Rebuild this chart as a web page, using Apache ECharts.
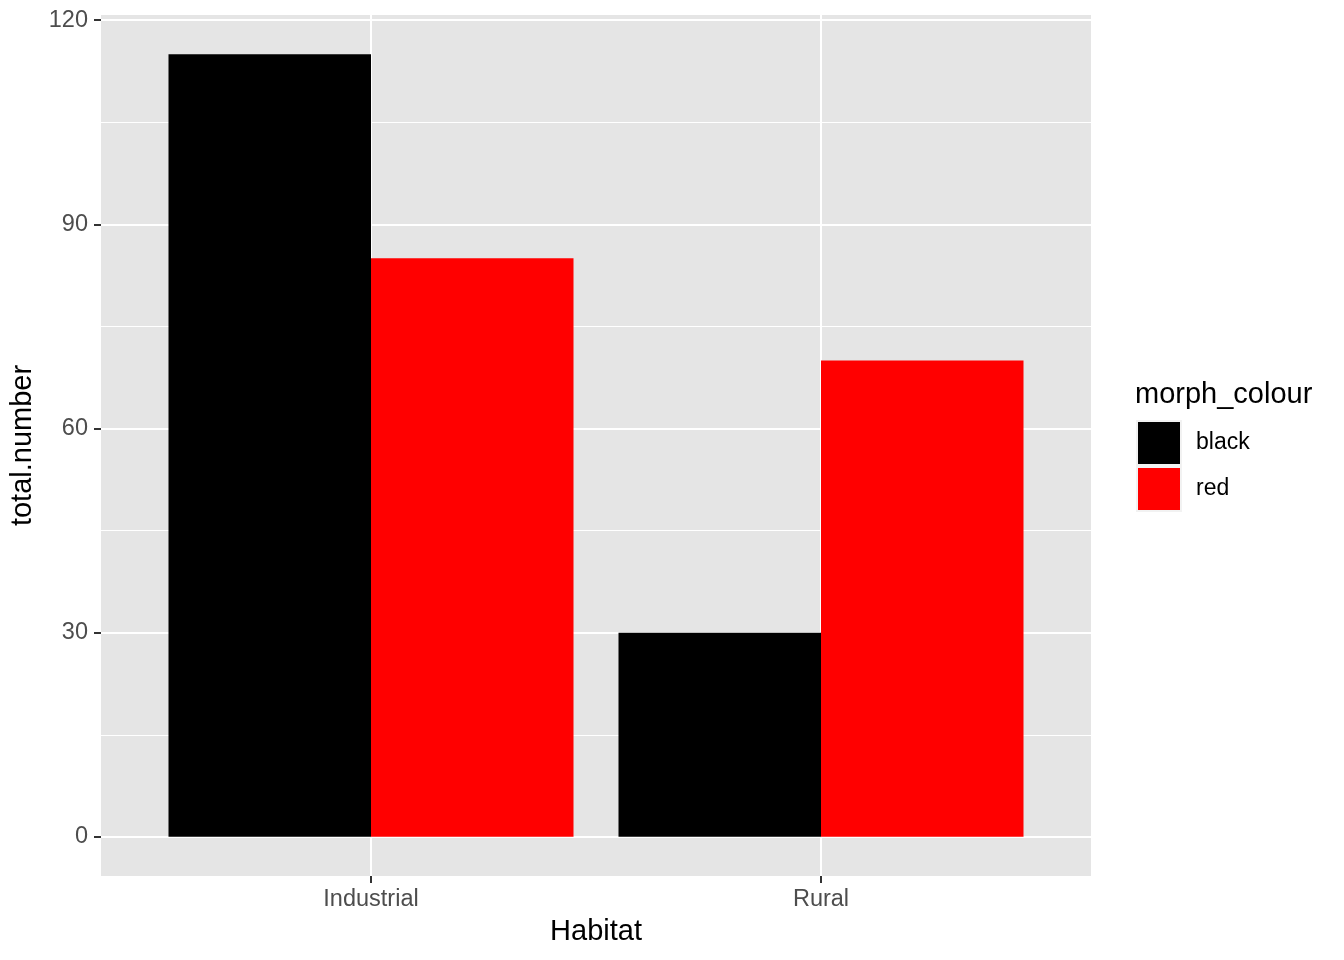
<!DOCTYPE html>
<html>
<head>
<meta charset="utf-8">
<script src="https://cdn.jsdelivr.net/npm/echarts@6/dist/echarts.min.js"></script>
<style>html,body{margin:0;padding:0;background:#fff;}#c{width:1344px;height:960px;}</style>
</head>
<body>
<div id="c"></div>
<script>
const categories = ['Industrial', 'Rural'];
const seriesNames = ['black', 'red'];
const blackValues = [115, 30];
const redValues = [85, 70];
const yTicks = [0, 30, 60, 90, 120];
const yMinorTicks = [15, 45, 75, 105];
const colors = ['#000000', '#FF0000'];

const FONT = "'Liberation Sans', Arial, Helvetica, sans-serif";
const chart = echarts.init(document.getElementById('c'));
const pos = categories.map((c, i) => i + 1);

chart.setOption({
  animation: false,
  backgroundColor: '#ffffff',
  title: {
    text: 'morph_colour', left: 1130, top: 375,
    textStyle: { fontFamily: FONT, fontSize: 29, fontWeight: 'normal', color: '#000' }
  },
  legend: {
    orient: 'vertical', left: 1136, top: 420, padding: 0,
    itemWidth: 44, itemHeight: 44, itemGap: 0,
    icon: 'rect',
    data: seriesNames,
    itemStyle: { borderColor: '#F2F2F2', borderWidth: 2 },
    textStyle: { fontFamily: FONT, fontSize: 23, color: '#000', padding: [0, 0, 0, 10] }
  },
  grid: {
    left: 101, right: 253, top: 15, bottom: 84,
    show: true, backgroundColor: '#E5E5E5', borderWidth: 0
  },
  xAxis: {
    type: 'value', min: 0.4, max: 2.6,
    name: 'Habitat', nameLocation: 'middle', nameGap: 41,
    nameTextStyle: { fontFamily: FONT, fontSize: 29, color: '#000' },
    axisLine: { show: false, onZero: false },
    axisTick: { show: true, customValues: pos, length: 7, lineStyle: { color: '#333', width: 2 } },
    axisLabel: {
      customValues: pos, margin: 12,
      formatter: v => categories[Math.round(v) - 1] || '',
      fontFamily: FONT, fontSize: 23.5, color: '#4D4D4D'
    },
    splitLine: { show: true, lineStyle: { color: '#fff', width: 2 } }
  },
  yAxis: [{
    type: 'value', min: -5.75, max: 120.75,
    name: 'total.number', nameLocation: 'middle', nameGap: 55, nameRotate: 90,
    nameTextStyle: { fontFamily: FONT, fontSize: 29, color: '#000' },
    axisLine: { show: false, onZero: false },
    axisTick: { show: true, customValues: yTicks, length: 7, lineStyle: { color: '#333', width: 2 } },
    axisLabel: { customValues: yTicks, margin: 13, fontFamily: FONT, fontSize: 23.5, color: '#4D4D4D' },
    splitLine: { show: true, lineStyle: { color: '#fff', width: 2 } }
  }, {
    type: 'value', min: -5.75, max: 120.75, position: 'left',
    axisLine: { show: false, onZero: false },
    axisTick: { show: false, customValues: yMinorTicks },
    axisLabel: { show: false, customValues: yMinorTicks },
    splitLine: { show: true, lineStyle: { color: '#fff', width: 1 } }
  }],
  series: [{
    name: seriesNames[0], type: 'bar', barWidth: 202.5, barGap: '0%',
    itemStyle: { color: colors[0] },
    data: pos.map((p, i) => [p, blackValues[i]])
  }, {
    name: seriesNames[1], type: 'bar', barWidth: 202.5, barGap: '0%',
    itemStyle: { color: colors[1] },
    data: pos.map((p, i) => [p, redValues[i]])
  }]
});
</script>
</body>
</html>
